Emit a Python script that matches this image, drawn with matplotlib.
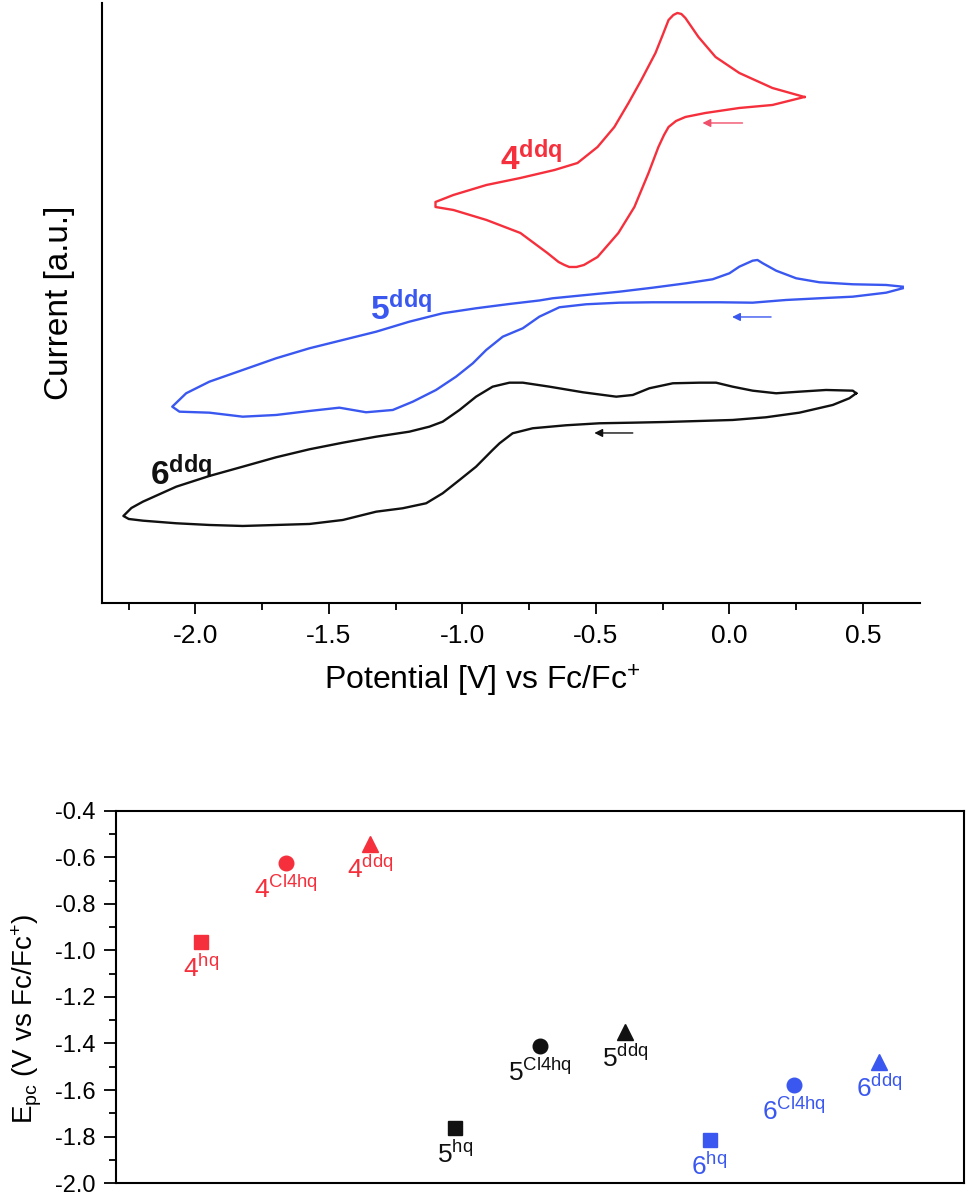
import matplotlib
matplotlib.use("Agg")
import matplotlib.pyplot as plt
from matplotlib.ticker import MultipleLocator, NullLocator

plt.rcParams['font.family'] = ['Liberation Sans', 'DejaVu Sans']
plt.rcParams['mathtext.fontset'] = 'custom'
plt.rcParams['mathtext.rm'] = 'Liberation Sans'
plt.rcParams['mathtext.it'] = 'Liberation Sans:italic'
plt.rcParams['mathtext.bf'] = 'Liberation Sans:bold'
plt.rcParams['axes.unicode_minus'] = False

RED = '#f5303c'
BLUE = '#3a58f0'
BLACK = '#111111'

# --- cyclic voltammograms (E in V vs Fc/Fc+, current in a.u., curves offset) ---
# loop starts at the switching potential on the right, cathodic branch first
e_4ddq = [0.281, 0.161, 0.037, -0.090, -0.165, -0.200, -0.228, -0.245, -0.266, -0.303,
          -0.356, -0.416, -0.494, -0.545, -0.573, -0.600, -0.618, -0.640, -0.682, -0.783,
          -0.910, -1.034, -1.101,
          -1.101, -1.034, -0.910, -0.783, -0.655, -0.569, -0.494, -0.431, -0.378, -0.330,
          -0.277, -0.250, -0.228, -0.210, -0.195, -0.180, -0.165, -0.116, -0.052, 0.037,
          0.161, 0.281]
i_4ddq = [5.06, 4.98, 4.95, 4.90, 4.86, 4.82, 4.76, 4.68, 4.56, 4.30,
          3.96, 3.70, 3.46, 3.38, 3.36, 3.36, 3.38, 3.41, 3.50, 3.70,
          3.83, 3.93, 3.96,
          4.01, 4.08, 4.18, 4.25, 4.33, 4.40, 4.56, 4.76, 5.00, 5.23,
          5.50, 5.68, 5.83, 5.88, 5.90, 5.89, 5.85, 5.66, 5.46, 5.30,
          5.15, 5.06]

e_5ddq = [0.649, 0.587, 0.462, 0.337, 0.212, 0.087, -0.037, -0.162, -0.287, -0.412,
          -0.537, -0.637, -0.712, -0.774, -0.849, -0.911, -0.961, -1.024, -1.099, -1.186,
          -1.261, -1.361, -1.461, -1.573, -1.698, -1.823, -1.948, -2.060, -2.087, -2.035,
          -1.948, -1.823, -1.698, -1.573, -1.448, -1.323, -1.199, -1.074, -0.949, -0.824,
          -0.712, -0.662, -0.537, -0.412, -0.287, -0.162, -0.063, 0.000, 0.037, 0.087,
          0.105, 0.125, 0.175, 0.250, 0.337, 0.462, 0.587, 0.649]
i_5ddq = [3.147, 3.103, 3.063, 3.047, 3.030, 3.003, 3.007, 3.007, 3.007, 3.003,
          2.987, 2.957, 2.863, 2.747, 2.663, 2.530, 2.397, 2.263, 2.130, 2.013,
          1.930, 1.907, 1.953, 1.920, 1.880, 1.863, 1.903, 1.913, 1.963, 2.097,
          2.213, 2.330, 2.447, 2.547, 2.630, 2.713, 2.813, 2.897, 2.947, 2.990,
          3.025, 3.047, 3.080, 3.113, 3.153, 3.197, 3.237, 3.297, 3.363, 3.423,
          3.430, 3.397, 3.323, 3.247, 3.207, 3.187, 3.180, 3.163]

e_6ddq = [0.475, 0.449, 0.387, 0.262, 0.137, 0.012, -0.112, -0.237, -0.362, -0.487,
          -0.612, -0.737, -0.812, -0.861, -0.887, -0.949, -1.011, -1.074, -1.136, -1.224,
          -1.323, -1.448, -1.573, -1.698, -1.823, -1.948, -2.072, -2.197, -2.250, -2.270,
          -2.240, -2.197, -2.072, -1.948, -1.823, -1.698, -1.573, -1.448, -1.323, -1.199,
          -1.124, -1.074, -1.011, -0.949, -0.887, -0.824, -0.774, -0.674, -0.549, -0.424,
          -0.362, -0.300, -0.212, -0.112, -0.050, 0.012, 0.087, 0.175, 0.262, 0.362,
          0.462, 0.475]
i_6ddq = [2.097, 2.047, 1.980, 1.903, 1.857, 1.830, 1.820, 1.810, 1.803, 1.797,
          1.777, 1.747, 1.697, 1.597, 1.530, 1.363, 1.230, 1.097, 0.997, 0.947,
          0.913, 0.830, 0.790, 0.780, 0.770, 0.780, 0.797, 0.823, 0.840, 0.870,
          0.950, 1.013, 1.163, 1.270, 1.363, 1.457, 1.537, 1.603, 1.663, 1.713,
          1.763, 1.813, 1.930, 2.063, 2.163, 2.203, 2.203, 2.163, 2.107, 2.063,
          2.080, 2.147, 2.197, 2.203, 2.203, 2.163, 2.123, 2.097, 2.113, 2.130,
          2.123, 2.097]

# --- cathodic peak potentials ---
cmpd_num = ['4', '4', '4', '5', '5', '5', '6', '6', '6']
cmpd_sup = ['hq', 'Cl4hq', 'ddq', 'hq', 'Cl4hq', 'ddq', 'hq', 'Cl4hq', 'ddq']
epc = [-0.965, -0.625, -0.54, -1.765, -1.41, -1.35, -1.815, -1.58, -1.48]
markers = ['s', 'o', '^'] * 3
colors = [RED] * 3 + [BLACK] * 3 + [BLUE] * 3
msizes = {'s': 9.5, 'o': 10.5, '^': 12}

fig = plt.figure(figsize=(9.7, 11.94), dpi=100)

# ---------------- top panel: CVs ----------------
ax1 = fig.add_axes([0.1052, 0.4950, 0.8433, 0.5025])
for e, i, c in ((e_4ddq, i_4ddq, RED), (e_5ddq, i_5ddq, BLUE), (e_6ddq, i_6ddq, BLACK)):
    ax1.plot(e, i, color=c, lw=1.7, solid_joinstyle='round')

ax1.set_xlim(-2.35, 0.714)
ax1.set_ylim(0, 6.0)
ax1.spines['top'].set_visible(False)
ax1.spines['right'].set_visible(False)
for s in ('left', 'bottom'):
    ax1.spines[s].set_linewidth(1.5)
ax1.yaxis.set_major_locator(NullLocator())
ax1.xaxis.set_major_locator(MultipleLocator(0.5))
ax1.xaxis.set_minor_locator(MultipleLocator(0.25))
ax1.tick_params(axis='x', which='major', direction='out', length=8, width=1.3, pad=7,
                labelsize=19)
ax1.tick_params(axis='x', which='minor', direction='out', length=5, width=1.3)

ax1.set_xlabel(r'Potential [V] vs Fc/Fc$^{\mathrm{+}}$', fontsize=23)
ax1.xaxis.set_label_coords(0.465, -0.13)
ax1.xaxis.label.set_va('center')
ax1.set_ylabel('Current [a.u.]', fontsize=24)
ax1.yaxis.set_label_coords(-0.052, 0.5)
ax1.yaxis.label.set_va('center')

ax1.text(-0.858, 4.33, r'$\mathbf{4}^{\mathbf{ddq}}$', color=RED, fontsize=24)
ax1.text(-1.348, 2.83, r'$\mathbf{5}^{\mathbf{ddq}}$', color=BLUE, fontsize=24)
ax1.text(-2.169, 1.18, r'$\mathbf{6}^{\mathbf{ddq}}$', color=BLACK, fontsize=24)

# scan direction arrows
arrow_kw = dict(arrowstyle='-|>', lw=1.0, mutation_scale=12, shrinkA=0, shrinkB=0)
ax1.annotate('', xy=(-0.101, 4.80), xytext=(0.049, 4.80),
             arrowprops=dict(color='#f0506a', **arrow_kw))
ax1.annotate('', xy=(0.010, 2.86), xytext=(0.156, 2.86),
             arrowprops=dict(color=BLUE, **arrow_kw))
ax1.annotate('', xy=(-0.506, 1.70), xytext=(-0.362, 1.70),
             arrowprops=dict(color=BLACK, **arrow_kw))

# ---------------- bottom panel: Epc ----------------
ax2 = fig.add_axes([0.1196, 0.0092, 0.8742, 0.3116])
for k, (v, m, c) in enumerate(zip(epc, markers, colors)):
    xpos = k + 1
    ax2.plot([xpos], [v], marker=m, color=c, ms=msizes[m], ls='none')
    ax2.annotate(cmpd_num[k] + r'$^{\mathrm{' + cmpd_sup[k] + '}}$', (xpos, v),
                 xytext=(0, -19), textcoords='offset points',
                 ha='center', va='center', color=c, fontsize=19)

ax2.set_xlim(0, 10)
ax2.set_ylim(-2.0, -0.4)
for s in ax2.spines.values():
    s.set_linewidth(1.5)
ax2.xaxis.set_major_locator(NullLocator())
ax2.yaxis.set_major_locator(MultipleLocator(0.2))
ax2.yaxis.set_minor_locator(MultipleLocator(0.1))
ax2.tick_params(axis='y', which='major', direction='out', length=9, width=1.3, pad=6,
                labelsize=17)
ax2.tick_params(axis='y', which='minor', direction='out', length=5, width=1.3)
ax2.set_ylabel(r'E$_{\mathrm{pc}}$ (V vs Fc/Fc$^{\mathrm{+}}$)', fontsize=20)
ax2.yaxis.set_label_coords(-0.105, 0.44)
ax2.yaxis.label.set_va('center')

fig.savefig('out.png', dpi=100)
